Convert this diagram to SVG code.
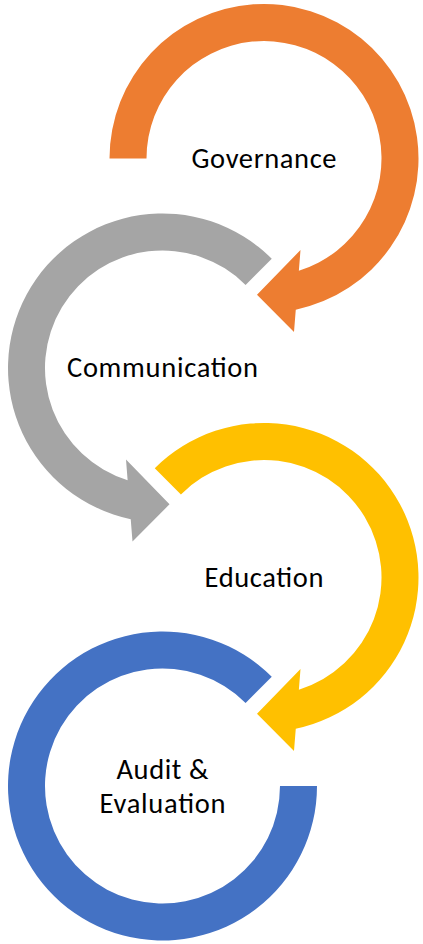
<svg xmlns="http://www.w3.org/2000/svg" width="423" height="944" viewBox="0 0 423 944">
  <style>
    .label { font-family: Calibri, Carlito, Lato, "Liberation Sans", sans-serif; font-size: 28.5px; fill: #000000; text-anchor: middle; }
    .orange { fill: #ED7D31; }
    .gray { fill: #A5A5A5; }
    .gold { fill: #FFC000; }
    .blue { fill: #4472C4; }
  </style>
  <rect width="423" height="944" fill="#FFFFFF"/>

  <!-- Step 1: clockwise arrow, tail on the left -->
  <g id="governance" transform="translate(264,158.5)">
    <path class="orange" d="M-154.5,0 A154.5,154.5 0 1 1 31.77,151.2 L30,173.5 L-7,136.3 L36.5,91.5 L34.86,112.21 A117.5,117.5 0 1 0 -117.5,0 Z"/>
    <text class="label" x="0" y="9.5" textLength="145">Governance</text>
  </g>

  <!-- Step 2: counter-clockwise arrow, tail at upper right -->
  <g id="communication" transform="translate(162.5,368)">
    <path class="gray" d="M109.25,-109.25 A154.5,154.5 0 1 0 -31.77,151.2 L-30,173.5 L7,136.3 L-36.5,91.5 L-34.86,112.21 A117.5,117.5 0 1 1 83.08,-83.08 Z"/>
    <text class="label" x="0" y="9" textLength="191">Communication</text>
  </g>

  <!-- Step 3: clockwise arrow, tail at upper left -->
  <g id="education" transform="translate(264,577.5)">
    <path class="gold" d="M-109.25,-109.25 A154.5,154.5 0 1 1 31.77,151.2 L30,173.5 L-7,136.3 L36.5,91.5 L34.86,112.21 A117.5,117.5 0 1 0 -83.08,-83.08 Z"/>
    <text class="label" x="0" y="9.5" textLength="119">Education</text>
  </g>

  <!-- Step 4: open ring, no arrowhead -->
  <g id="audit-evaluation" transform="translate(162.5,786)">
    <path class="blue" d="M154.5,0 A154.5,154.5 0 1 1 109.25,-109.25 L83.08,-83.08 A117.5,117.5 0 1 0 117.5,0 Z"/>
    <text class="label" x="0" y="-7" textLength="92">Audit &amp;</text>
    <text class="label" x="0" y="27" textLength="126">Evaluation</text>
  </g>

  <!-- The ring arrows above carry the flow; no separate links -->
  <g id="connectors"/>
</svg>
